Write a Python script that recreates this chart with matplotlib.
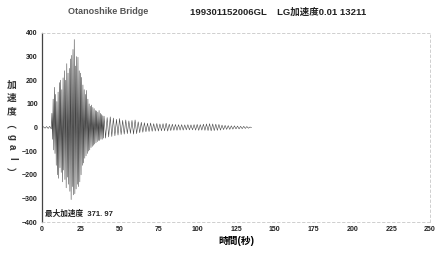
import numpy as np
import matplotlib
matplotlib.use("Agg")
import matplotlib.pyplot as plt

plt.rcParams['font.family'] = ['Liberation Sans', 'Noto Sans CJK JP', 'DejaVu Sans']

# --- data (peak-to-peak extremes) ---
seg_a_range = (0.0, 6.0)
seg_a_vals = [0, 3, -3, 4, -4, 5, -6]

seg_b_range = (6.4, 40.0)
seg_b_vals = [60, -50, 120, -95, 170, -110, 140, -160, 110, -200,
              150, -215, 190, -170, 200, -190, 160, -230, 210, -180,
              240, -220, 200, -255, 270, -210, 230, -240, 250, -270,
              290, -305, 305, -250, 330, -285, 372, -280, 260, -260,
              300, -240, 297, -250, 240, -230, 230, -200, 212, -160,
              180, -150, 160, -130, 140, -120, 157, -110, 120, -100,
              100, -95, 90, -85, 95, -80, 85, -75, 80, -70,
              72, -65, 70, -60, 65, -55, 72, -55, 60, -50,
              55, -50, 50, -45, 48]

seg_c_range = (41.0, 135.0)
seg_c_vals = [-45, 42, -40, 45, -38, 40, -35, 35, -32, 38,
              -30, 30, -28, 32, -26, 28, -25, 30, -28, 32,
              -26, 24, -22, 22, -20, 20, -18, 18, -17, 19,
              -16, 16, -15, 17, -15, 15, -14, 16, -14, 18,
              -15, 14, -13, 14, -12, 13, -12, 12, -11, 12,
              -11, 11, -10, 12, -10, 11, -10, 12, -11, 13,
              -12, 12, -11, 14, -12, 15, -13, 16, -14, 15,
              -13, 14, -12, 13, -11, 10, -9, 9, -8, 8,
              -8, 7, -7, 7, -6, 6, -6, 5, -5, 5,
              -4, 4, -3, 2, 0]

x_ticks = [0, 25, 50, 75, 100, 125, 150, 175, 200, 225, 250]
y_ticks = [400, 300, 200, 100, 0, -100, -200, -300, -400]

title_left = "Otanoshike Bridge"
title_right = "199301152006GL    LG加速度0.01 13211"
xlabel = "時間(秒)"
ylabel_chars = ["加", "速", "度", "︵", "g", "a", "l", "︶"]
peak_text = "最大加速度  371. 97"

# --- build series ---
t_parts, v_parts = [], []
for (a, b), vals in [(seg_a_range, seg_a_vals), (seg_b_range, seg_b_vals),
                     (seg_c_range, seg_c_vals)]:
    t_parts.append(np.linspace(a, b, len(vals)))
    v_parts.append(np.array(vals, dtype=float))
t = np.concatenate(t_parts)
v = np.concatenate(v_parts)

fig = plt.figure(figsize=(4.37, 2.61), dpi=100)
ax = fig.add_axes([0.096, 0.149, 0.888, 0.725])
ax.plot(t, v, color='#444444', lw=0.4)
ax.set_xlim(0, 250)
ax.set_ylim(-400, 400)
ax.set_xticks(x_ticks)
ax.set_yticks(y_ticks)
ax.tick_params(axis='both', length=0, labelsize=5, pad=3, colors='#222222')
for lab in ax.get_xticklabels() + ax.get_yticklabels():
    lab.set_fontweight('bold')
for side in ['top', 'right', 'bottom']:
    ax.spines[side].set_color('#c8c8c8')
    ax.spines[side].set_linewidth(0.6)
    ax.spines[side].set_linestyle((0, (3, 3)))
ax.spines['left'].set_color('#444444')
ax.spines['left'].set_linewidth(0.9)

ax.set_xlabel(xlabel, fontsize=7, fontweight='bold', labelpad=2)
ax.text(2, -375, peak_text, fontsize=5.5, fontweight='bold', color='#222222')

fig.text(0.248, 0.955, title_left, fontsize=6.5, fontweight='bold',
         ha='center', va='center', color='#555555')
fig.text(0.435, 0.955, title_right, fontsize=6.8, fontweight='bold',
         ha='left', va='center', color='#222222')

ys = [85, 98, 111, 124, 137, 147, 158, 173]
for i, (ch, yp) in enumerate(zip(ylabel_chars, ys)):
    rot = -90 if ch in ("g", "a", "l") else 0
    fig.text(12 / 437, 1 - yp / 261, ch, fontsize=7, fontweight='bold',
             ha='center', va='center', color='#333333', rotation=rot)

fig.savefig('out.png', dpi=100)
